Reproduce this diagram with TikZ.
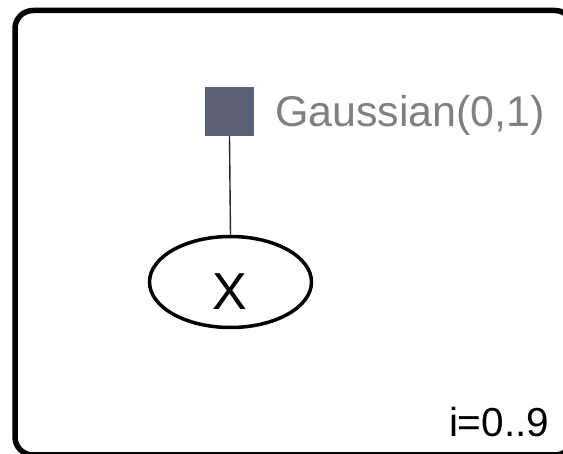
\documentclass[tikz,border=0pt]{standalone}
\usepackage{fontspec}
\setmainfont{Liberation Sans}
\usetikzlibrary{shapes.geometric}
\definecolor{factorfill}{RGB}{91,97,119}
\definecolor{labelgray}{RGB}{128,128,128}
\tikzset{
  plate/.style={draw=black, line width=5.5pt, rounded corners=18pt},
  factorbox/.style={rectangle, fill=factorfill, draw=none, minimum size=49pt, inner sep=0pt},
  varnode/.style={ellipse, draw=black, line width=3.5pt, minimum width=162pt, minimum height=91pt, inner sep=0pt},
  edge/.style={draw=black!85, line width=1.4pt},
  txt/.style={inner sep=0pt, outer sep=0pt}
}
\begin{document}
\begin{tikzpicture}[x=1pt, y=-1pt]
  \useasboundingbox (0,0) rectangle (563,454);
  \clip (0,0) rectangle (563,454);
  % plate frame
  \draw[plate] (15,10.5) rectangle (573,455);
  % factor and its label
  \node[factorbox] (factor) at (229.5,111.5) {};
  \node[txt, anchor=base west, text=labelgray, font=\fontsize{43}{43}\selectfont] (flabel) at (275,127) {Gaussian(0,1)};
  % variable
  \node[varnode] (var) at (230.5,282) {};
  \node[txt, anchor=base, font=\fontsize{52}{52}\selectfont] (vlabel) at (229.5,310) {X};
  % connector
  \draw[edge] (factor.south) -- (var.north);
  % plate range
  \node[txt, anchor=base west, font=\fontsize{40.5}{40.5}\selectfont] (range) at (449,437) {i=0..9};
\end{tikzpicture}
\end{document}
